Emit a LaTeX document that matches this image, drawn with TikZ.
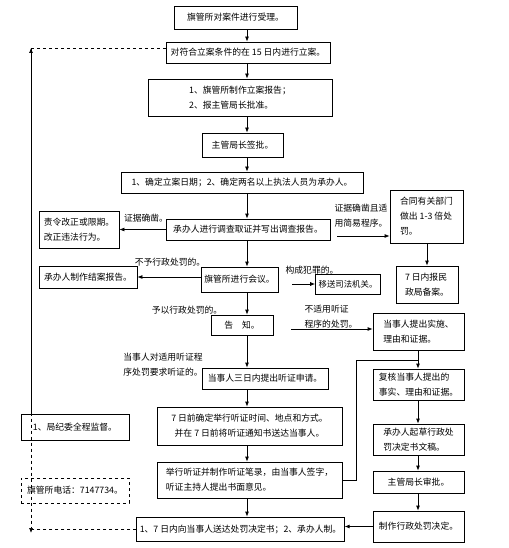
\documentclass[tikz,border=0pt]{standalone}
\usepackage{fontspec}
\setmainfont{Noto Sans CJK SC}
\usetikzlibrary{arrows.meta,positioning}

\begin{document}
\begin{tikzpicture}[x=1pt,y=-1pt,
font=\fontsize{8.8}{15}\selectfont,
box/.style={draw,line width=0.8pt,inner sep=3pt,align=left},
lab/.style={inner sep=0pt,align=left},
arr/.style={-{Latex[length=5pt,width=4pt]},line width=0.8pt}]
\useasboundingbox (0,0) rectangle (508,548);
\coordinate (spine) at (247,0);
\coordinate (rspine) at (418,0);
% main column
\node[box,minimum width=123,minimum height=23] (b1) at (235.5,17.5) {旗管所对案件进行受理。};
\node[box,minimum width=164,minimum height=21] (b2) at (248,52.5) {对符合立案条件的在 15 日内进行立案。};
\node[box,minimum width=184,minimum height=37] (b3) at (240,97.5) {1、旗管所制作立案报告；\\2、报主管局长批准。};
\node[box,minimum width=81,minimum height=24] (b4) at (242.5,145) {主管局长签批。};
\node[box,minimum width=242,minimum height=21] (b5) at (242,182.5) {1、确定立案日期；2、确定两名以上执法人员为承办人。};
\node[box,minimum width=164,minimum height=21] (b6) at (248,229.5) {承办人进行调查取证并写出调查报告。};
\node[box,minimum width=77,minimum height=25] (b7) at (239.5,279.5) {旗管所进行会议。};
\node[box,minimum width=62,minimum height=20] (b8) at (242,325) {告\quad 知。};
\node[box,minimum width=126,minimum height=21] (b9) at (265,378.5) {当事人三日内提出听证申请。};
\node[box,align=center,minimum width=185,minimum height=38] (b10) at (249.5,426) {7 日前确定举行听证时间、地点和方式。\\并在 7 日前将听证通知书送达当事人。};
\node[box,minimum width=185,minimum height=36] (b11) at (249.5,480) {举行听证并制作听证笔录，由当事人签字，\\听证主持人提出书面意见。};
\node[box,minimum width=205,minimum height=24] (b12) at (240.5,529) {1、7 日内向当事人送达处罚决定书；2、承办人制。};
% left side
\node[box,minimum width=80,minimum height=37] (bl1) at (79,229.5) {责令改正或限期。\\改正违法行为。};
\node[box,minimum width=98,minimum height=22] (bl2) at (88,277) {承办人制作结案报告。};
\node[box,minimum width=108,minimum height=26] (sup) at (75,427) {1、局纪委全程监督。};
\node[box,dashed,minimum width=108,minimum height=25] (tel) at (75,490.5) {旗管所电话：7147734。};
% right side
\node[box,minimum width=73,minimum height=53] (br1) at (426.5,216.5) {合同有关部门\\做出 1-3 倍处\\罚。};
\node[box,font=\fontsize{8.4}{15}\selectfont,minimum width=60,minimum height=20] (bm) at (348,284) {移送司法机关。};
\node[box,minimum width=62,minimum height=37] (br2) at (427,284.5) {7 日内报民\\政局备案。};
\node[box,minimum width=91,minimum height=37] (br3) at (418.5,331.5) {当事人提出实施、\\理由和证据。};
\node[box,minimum width=91,minimum height=31] (br4) at (418.5,384.5) {复核当事人提出的\\事实、理由和证据。};
\node[box,minimum width=91,minimum height=31] (br5) at (418.5,439.5) {承办人起草行政处\\罚决定书文稿。};
\node[box,minimum width=91,minimum height=22] (br6) at (418.5,482) {主管局长审批。};
\node[box,minimum width=91,minimum height=31] (br7) at (418.5,526.5) {制作行政处罚决定。};
% labels
\node[lab] (l1) at (146,218) {证据确凿。};
\node[lab] (l2) at (361,215.5) {证据确凿且适\\用简易程序。};
\node[lab] (l3) at (170,262) {不予行政处罚的。};
\node[lab] (l4) at (312,270) {构成犯罪的。};
\node[lab] (l5) at (187,310) {予以行政处罚的。};
\node[lab] (l6) at (331,316.5) {不适用听证\\程序的处罚。};
\node[lab] (l7) at (163,364.5) {当事人对适用听证程\\序处罚要求听证的。};
% arrows
\foreach \a/\b in {b1/b2,b2/b3,b3/b4,b4/b5,b5/b6,b6/b7,b7/b8,b8/b9,b9/b10,b10/b11,b11/b12}
  \draw[arr] (\a.south -| spine) -- (\b.north -| spine);
\foreach \a/\b in {br3/br4,br4/br5,br5/br6,br6/br7}
  \draw[arr] (\a.south -| rspine) -- (\b.north -| rspine);
\draw[arr] (br1.south -| br2) -- (br2.north);
\draw[arr] (b6.west) -- (bl1.east);
\draw[arr] (b7.west |- bl2.east) -- (bl2.east);
\coordinate (s1) at (337,236);
\draw[arr] (s1) -- (s1 -| br1.west);
\coordinate (s2) at (292,284);
\draw[arr] (s2) -- (bm.west);
\coordinate (s3) at (291,329);
\draw[arr] (s3) -- (s3 -| br3.west);
\coordinate (j) at (356,360);
\draw[line width=0.8pt] (b11.east) -| (j) -- (j -| rspine);
\draw[arr] (br7.west) -- (br7.west -| b12.east);
% dashed frame
\coordinate (tl) at (31,48);
\coordinate (bl) at (31,533);
\draw[dashed,line width=0.7pt] (b2.west |- tl) -- (tl);
\draw[dashed,line width=0.7pt,{Latex[length=5pt,width=4pt]}-{Latex[length=5pt,width=4pt]}] (tl) -- (bl);
\draw[line width=0.7pt] (tl) -- (tl |- sup.north);
\draw[dashed,line width=0.7pt] (b12.west) -- (b12.west -| bl);
\end{tikzpicture}
\end{document}
